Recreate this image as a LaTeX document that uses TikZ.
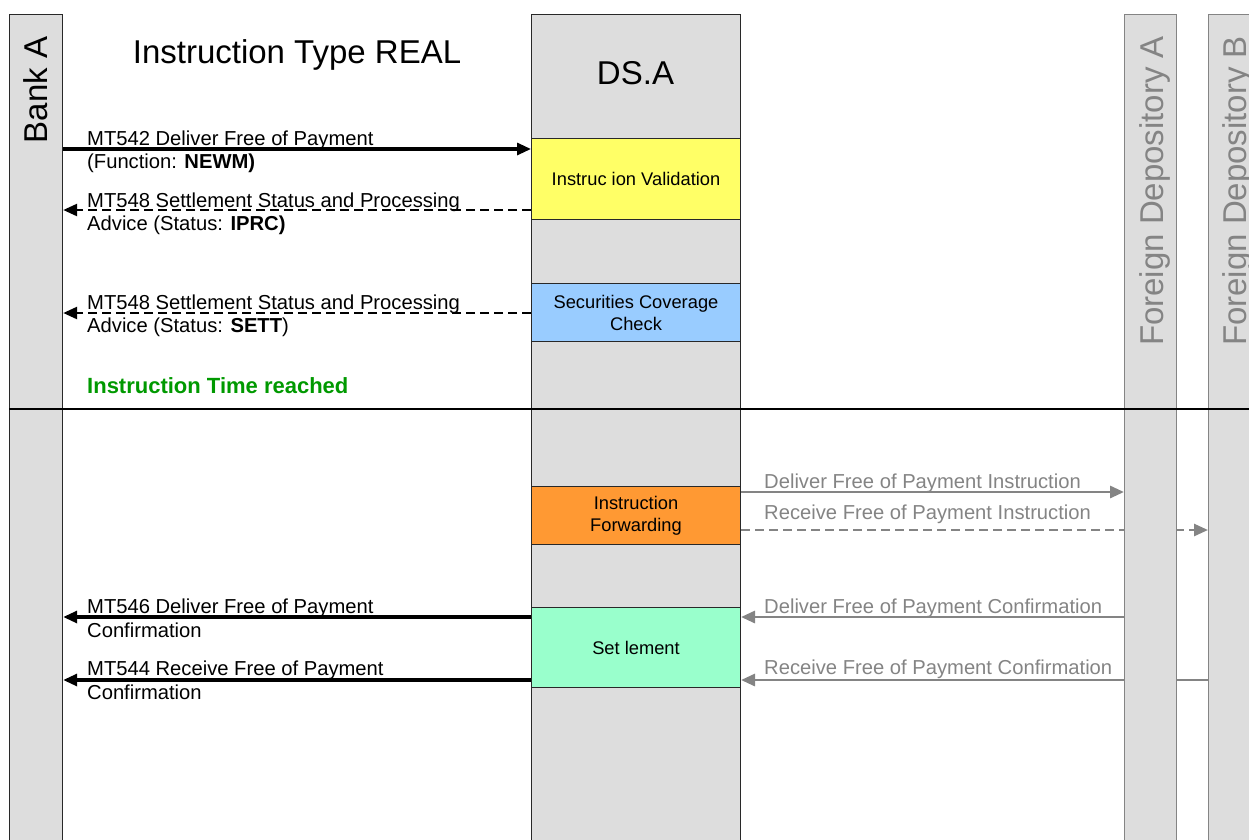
\documentclass[tikz,border=0pt]{standalone}
\usepackage{fontspec}
\setmainfont{Liberation Sans}
\usetikzlibrary{arrows.meta}
\pgfdeclarelayer{bg}
\pgfsetlayers{bg,main}
\definecolor{lanefill}{RGB}{221,221,221}
\definecolor{laneborder}{RGB}{40,40,40}
\definecolor{fgray}{RGB}{132,132,132}
\definecolor{boxborder}{RGB}{40,40,40}
\definecolor{pyellow}{RGB}{255,255,102}
\definecolor{pblue}{RGB}{153,204,255}
\definecolor{porange}{RGB}{255,153,51}
\definecolor{pmint}{RGB}{153,255,204}
\definecolor{tgreen}{RGB}{0,153,0}
\tikzset{
  lane/.style={draw=laneborder, fill=lanefill, line width=1.2pt, inner sep=0pt, anchor=north west, minimum height=836pt},
  forlane/.style={lane, draw=fgray},
  lanetitle/.style={font=\fontsize{33}{39}\selectfont, inner sep=0pt},
  proc/.style={draw=boxborder, line width=1pt, inner sep=0pt, anchor=north west, minimum width=209pt, align=center, font=\fontsize{18.3}{22}\selectfont},
  lbl/.style={anchor=base west, inner sep=0pt, font=\fontsize{20.2}{23}\selectfont},
  glbl/.style={lbl, text=fgray},
  msg/.style={line width=3.1pt, -{Triangle[length=14pt,width=12pt]}},
  dmsg/.style={msg, line width=2.6pt, dash pattern=on 9pt off 5pt},
  gmsg/.style={msg, line width=2.9pt, draw=fgray, color=fgray},
  gdmsg/.style={gmsg, line width=2.6pt, dash pattern=on 9pt off 5pt},
}
\begin{document}
\begin{tikzpicture}[x=1pt,y=-1pt]
\useasboundingbox (0,0) rectangle (1249,839);
\clip (0,0) rectangle (1249,839);
% lanes
\node[lane, minimum width=53pt] (bankA) at (9,14) {};
\node[lane, minimum width=209pt] (dsA) at (531,14) {};
\node[forlane, minimum width=52pt] (fdA) at (1124,14) {};
\node[forlane, minimum width=54pt] (fdB) at (1208,14) {};
% lane titles
\node[lanetitle, rotate=90, anchor=base] (tBank) at (47,90) {Bank A};
\node[lanetitle, anchor=base] (tDS) at (635.5,84) {DS.A};
\node[lanetitle, anchor=base] (tTitle) at (297,63) {Instruction Type REAL};
\node[lanetitle, rotate=90, anchor=base, text=fgray] (tFA) at (1163,191) {Foreign Depository A};
\node[lanetitle, rotate=90, anchor=base, text=fgray] (tFB) at (1246,191) {Foreign Depository B};
% process boxes
\node[proc, fill=pyellow, minimum height=81pt] (iv) at (531,138) {Instruc ion Validation};
\node[proc, fill=pblue, minimum height=58pt] (scc) at (531,283) {Securities Coverage\\Check};
\node[proc, fill=porange, minimum height=58pt] (ifw) at (531,486) {Instruction\\Forwarding};
\node[proc, fill=pmint, minimum height=80pt] (stl) at (531,607) {Set lement};
% separator
\coordinate (sep) at (0,409);
\draw[line width=1.2pt] (bankA.west |- sep) -- ++(1250,0);
% message levels
\coordinate (r1) at (0,149);
\coordinate (r2) at (0,210);
\coordinate (r3) at (0,313);
\coordinate (r4) at (0,617);
\coordinate (r5) at (0,680);
\coordinate (g1) at (0,492);
\coordinate (g2) at (0,530);
% black messages
\draw[msg] (bankA.east |- r1) -- (iv.west |- r1);
\draw[dmsg] (iv.west |- r2) -- (bankA.east |- r2);
\draw[dmsg] (scc.west |- r3) -- (bankA.east |- r3);
\draw[msg] (stl.west |- r4) -- (bankA.east |- r4);
\draw[msg] (stl.west |- r5) -- (bankA.east |- r5);
% gray messages
\draw[gmsg] (ifw.east |- g1) -- (fdA.west |- g1);
\draw[gmsg] (fdA.west |- r4) -- (stl.east |- r4);
\begin{pgfonlayer}{bg}
\draw[gdmsg] (ifw.east |- g2) -- (fdB.west |- g2);
\draw[gmsg] (fdB.west |- r5) -- (stl.east |- r5);
\end{pgfonlayer}
% labels
\node[lbl] (l1a) at (87,145) {MT542 Deliver Free of Payment};
\node[lbl] (l1b) at (87,168) {(Function: \textbf{NEWM)}};
\node[lbl] (l2a) at (87,207) {MT548 Settlement Status and Processing};
\node[lbl] (l2b) at (87,230) {Advice (Status: \textbf{IPRC)}};
\node[lbl] (l3a) at (87,309) {MT548 Settlement Status and Processing};
\node[lbl] (l3b) at (87,332) {Advice (Status: \textbf{SETT})};
\node[lbl, font=\fontsize{22}{25}\selectfont\bfseries, text=tgreen] (ltime) at (87,393) {Instruction Time reached};
\node[lbl] (l4a) at (87,613) {MT546 Deliver Free of Payment};
\node[lbl] (l4b) at (87,637) {Confirmation};
\node[lbl] (l5a) at (87,675) {MT544 Receive Free of Payment};
\node[lbl] (l5b) at (87,699) {Confirmation};
\node[glbl] (g1l) at (764,488) {Deliver Free of Payment Instruction};
\node[glbl] (g2l) at (764,519) {Receive Free of Payment Instruction};
\node[glbl] (g3l) at (764,613) {Deliver Free of Payment Confirmation};
\node[glbl] (g4l) at (764,674) {Receive Free of Payment Confirmation};
\end{tikzpicture}
\end{document}
